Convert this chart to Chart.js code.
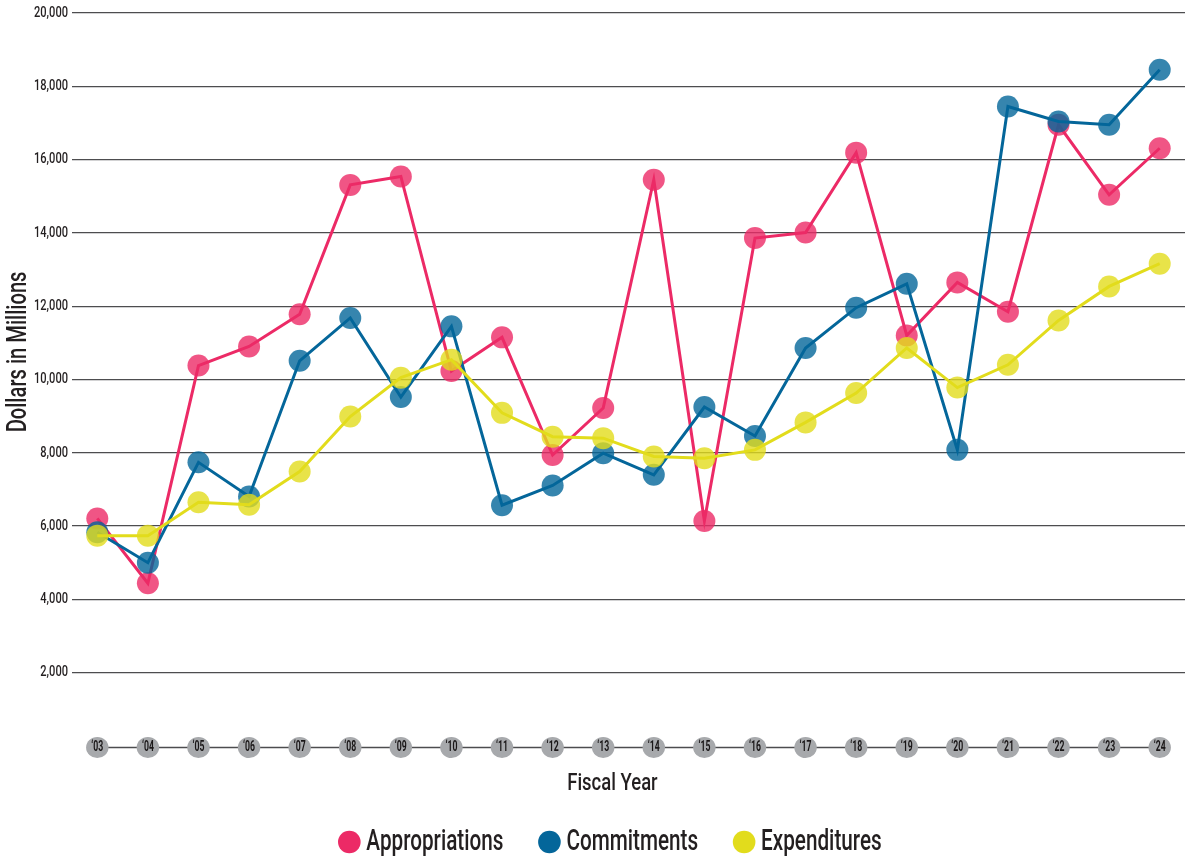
<!DOCTYPE html>
<html><head><meta charset="utf-8">
<script src="https://cdn.jsdelivr.net/npm/chart.js@4"></script>
<style>html,body{margin:0;padding:0;background:#fff;overflow:hidden;} canvas{display:block;}</style>
</head><body>
<canvas id="c" width="1189" height="858" style="width:1189px;height:858px"></canvas>
<script>
const years = ['‘03','‘04','‘05','‘06','‘07','‘08','‘09','‘10','‘11','‘12','‘13','‘14','‘15','‘16','‘17','‘18','‘19','‘20','‘21','‘22','‘23','‘24'];
const appropriations = [6210, 4440, 10380, 10900, 11780, 15310, 15540, 10230, 11150, 7940, 9220, 15450, 6140, 13860, 14010, 16190, 11200, 12650, 11850, 16950, 15040, 16310];
const commitments = [5830, 5000, 7740, 6810, 10510, 11680, 9520, 11450, 6570, 7110, 7990, 7400, 9250, 8460, 10860, 11960, 12610, 8080, 17450, 17040, 16950, 18450];
const expenditures = [5740, 5740, 6650, 6580, 7490, 8990, 10050, 10540, 9090, 8440, 8400, 7900, 7850, 8080, 8830, 9630, 10860, 9780, 10400, 11610, 12540, 13160];
const seriesNames = ['Appropriations', 'Commitments', 'Expenditures'];
const yMin = 0, yMax = 20000, yStep = 2000;

const FONT = "Roboto, 'Liberation Sans', sans-serif";
const TEXT = '#231f20';
const C_APP = '#ec2a66', C_COM = '#04669a', C_EXP = '#e2dc1c';
const P_APP = 'rgba(236,42,102,0.8)', P_COM = 'rgba(4,102,154,0.8)', P_EXP = 'rgba(226,220,28,0.8)';

// Condensed look: horizontal squeeze of text by font size (text remains real canvas text)
const SQUEEZE = { 14: 0.62, 15: 0.74, 24: 0.77, 28: 0.72, 30: 0.69 };
const canvas = document.getElementById('c');
const ctx2d = canvas.getContext('2d');
function squeezeFor(c) {
  const m = /(\d+(?:\.\d+)?)px/.exec(c.font);
  return m && SQUEEZE[Math.round(+m[1])] ? SQUEEZE[Math.round(+m[1])] : 1;
}
const origFill = ctx2d.fillText.bind(ctx2d);
const origMeasure = ctx2d.measureText.bind(ctx2d);
ctx2d.fillText = function (t, x, y, mw) {
  const s = squeezeFor(ctx2d);
  ctx2d.save();
  ctx2d.translate(x, y);
  ctx2d.scale(s, 1);
  if (mw === undefined || mw === null) origFill(t, 0, 0); else origFill(t, 0, 0, mw / s);
  ctx2d.restore();
};
ctx2d.measureText = function (t) {
  const s = squeezeFor(ctx2d);
  const m = origMeasure(t);
  return {
    width: m.width * s,
    actualBoundingBoxLeft: m.actualBoundingBoxLeft * s,
    actualBoundingBoxRight: m.actualBoundingBoxRight * s,
    actualBoundingBoxAscent: m.actualBoundingBoxAscent,
    actualBoundingBoxDescent: m.actualBoundingBoxDescent,
    fontBoundingBoxAscent: m.fontBoundingBoxAscent,
    fontBoundingBoxDescent: m.fontBoundingBoxDescent
  };
};

const axisBubbles = {
  id: 'axisBubbles',
  beforeDraw(chart) {
    const x = chart.scales.x, ctx = chart.ctx;
    const y = chart.chartArea.bottom + 1.5;
    const n = x.ticks.length;
    ctx.save();
    ctx.strokeStyle = '#4d4d4f';
    ctx.lineWidth = 1.5;
    ctx.beginPath();
    ctx.moveTo(x.getPixelForTick(0), y);
    ctx.lineTo(x.getPixelForTick(n - 1), y);
    ctx.stroke();
    ctx.fillStyle = '#a7a9ac';
    for (let i = 0; i < n; i++) {
      ctx.beginPath();
      ctx.ellipse(x.getPixelForTick(i), y, 11.2, 10.5, 0, 0, Math.PI * 2);
      ctx.fill();
    }
    ctx.restore();
  }
};

const legendShift = {
  id: 'legendShift',
  afterLayout(chart) {
    if (chart.legend) { chart.legend.left += 22; chart.legend.right += 22; }
  }
};

function ds(label, data, line, pt, order) {
  return {
    label, data, order,
    borderColor: line, backgroundColor: line,
    borderWidth: 3,
    pointRadius: 11, pointHoverRadius: 11,
    pointBackgroundColor: pt, pointBorderWidth: 0,
    pointBorderColor: pt,
    tension: 0, fill: false
  };
}

new Chart(canvas, {
  type: 'line',
  data: {
    labels: years,
    datasets: [
      ds(seriesNames[0], appropriations, C_APP, P_APP, 3),
      ds(seriesNames[1], commitments, C_COM, P_COM, 2),
      ds(seriesNames[2], expenditures, C_EXP, P_EXP, 1)
    ]
  },
  options: {
    responsive: false,
    animation: false,
    devicePixelRatio: 1,
    events: [],
    layout: { autoPadding: false, padding: { top: 13, right: 4, left: 0, bottom: -9 } },
    plugins: {
      tooltip: { enabled: false },
      legend: {
        position: 'bottom',
        labels: {
          usePointStyle: true, pointStyle: 'circle',
          boxWidth: 4, boxHeight: 16, padding: 44,
          color: TEXT,
          font: { family: FONT, size: 30, weight: 500 },
          generateLabels(chart) {
            return chart.data.datasets.map((d, i) => ({
              text: d.label, fillStyle: d.borderColor, strokeStyle: d.borderColor,
              lineWidth: 0, pointStyle: 'circle', hidden: false, datasetIndex: i, fontColor: TEXT
            }));
          }
        }
      }
    },
    scales: {
      x: {
        type: 'category',
        offset: true,
        border: { display: false },
        grid: { display: false, drawTicks: false },
        ticks: {
          color: '#1a1718', font: { family: FONT, size: 14, weight: 700, lineHeight: 1 },
          mirror: true, crossAlign: 'center', padding: -1.5,
          maxRotation: 0, autoSkip: false, z: 1
        },
        title: { display: true, text: 'Fiscal Year       ', color: TEXT, font: { family: FONT, size: 24, weight: 500 }, padding: { top: 0, bottom: -15.4 } },
        afterFit(s) { s.height = 37; }
      },
      y: {
        min: yMin, max: yMax,
        border: { display: false },
        grid: {
          drawTicks: false, lineWidth: 1.3,
          color: c => c.tick && c.tick.value === 0 ? 'rgba(0,0,0,0)' : '#4d4d4f'
        },
        ticks: {
          stepSize: yStep, padding: 4, color: TEXT,
          font: { family: FONT, size: 15, weight: 500 },
          callback: v => v === 0 ? '' : v.toLocaleString('en-US')
        },
        title: { display: true, text: '           Dollars in Millions', color: TEXT, font: { family: FONT, size: 28, weight: 500 }, padding: { top: 2, bottom: 0 } },
        afterFit(s) { s.width = 72; }
      }
    }
  },
  plugins: [axisBubbles, legendShift]
});
</script>
</body></html>
